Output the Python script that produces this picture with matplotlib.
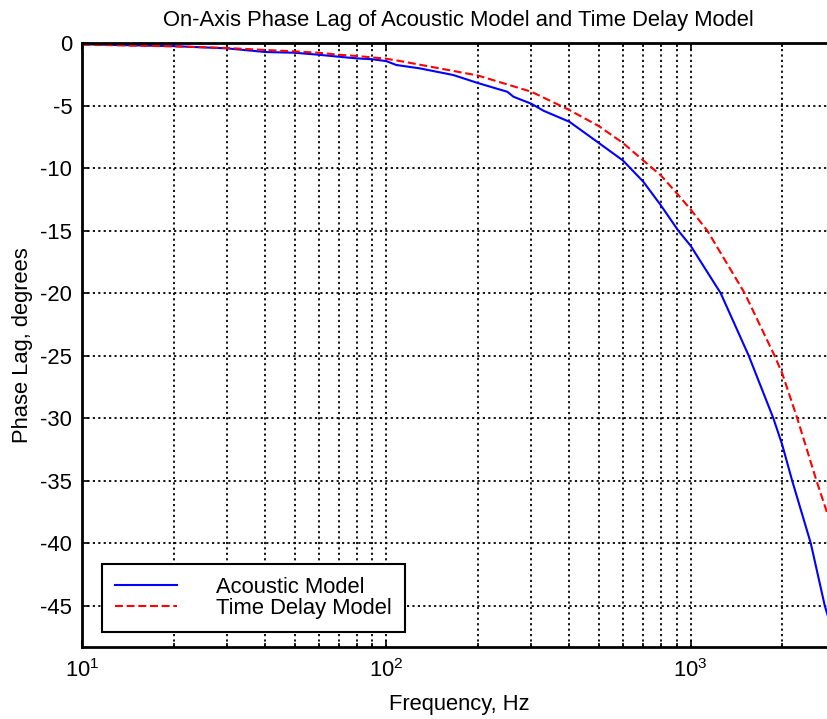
import matplotlib
matplotlib.use("Agg")
import matplotlib.pyplot as plt
from matplotlib.ticker import FixedLocator, LogLocator, NullFormatter

# --- data ---
freq_acoustic = [10, 20, 30, 40, 50, 60, 70, 80, 90, 100, 108, 129, 166, 200,
                 250, 262, 300, 329, 400, 500, 600, 700, 800, 911, 1000, 1256,
                 1553, 1871, 2000, 2158, 2484, 2762, 2850]
phase_acoustic = [-0.1, -0.25, -0.43, -0.72, -0.78, -0.94, -1.1, -1.23, -1.3,
                  -1.45, -1.76, -2.03, -2.56, -3.2, -3.9, -4.3, -4.86, -5.42,
                  -6.3, -8.0, -9.4, -11.1, -13.0, -15.0, -16.2, -20.0, -25.0,
                  -30.0, -32.1, -35.0, -40.0, -45.0, -46.1]

freq_delay = [10, 20, 30, 40, 50, 60, 70, 80, 90, 100, 111, 200, 300, 400,
              500, 600, 700, 800, 900, 1000, 1135, 1506, 1888, 2000, 2242,
              2594, 2850]
phase_delay = [-0.13, -0.27, -0.4, -0.56, -0.67, -0.78, -0.94, -1.04, -1.15,
               -1.26, -1.44, -2.6, -3.9, -5.36, -6.65, -8.0, -9.4, -10.6,
               -12.0, -13.3, -15.0, -20.0, -25.0, -26.4, -30.0, -35.0, -38.0]

y_ticks = [0, -5, -10, -15, -20, -25, -30, -35, -40, -45]
y_tick_labels = ["0", "-5", "-10", "-15", "-20", "-25", "-30", "-35", "-40", "-45"]
series_labels = ["Acoustic Model", "Time Delay Model"]

plt.rcParams["font.family"] = ["Liberation Sans", "DejaVu Sans"]
plt.rcParams["mathtext.fontset"] = "custom"
plt.rcParams["mathtext.rm"] = "Liberation Sans"
plt.rcParams["mathtext.it"] = "Liberation Sans:italic"
plt.rcParams["axes.unicode_minus"] = False

FS = 15.8

fig = plt.figure(figsize=(8.28, 7.19), dpi=100)
# axes runs a few pixels past the right edge (cut off like the original)
ax = fig.add_axes([82 / 828, 72 / 719, 753.7 / 828, 604 / 719])

ax.plot(freq_acoustic, phase_acoustic, color="#0000ff", lw=1.5,
        label=series_labels[0])
ax.plot(freq_delay, phase_delay, color="#ff0000", lw=1.5,
        dashes=(3.8, 1.8), label=series_labels[1])

ax.set_xscale("log")
ax.set_xlim(10, 3000)
ax.set_ylim(-48.3, 0)
ax.yaxis.set_major_locator(FixedLocator(y_ticks))
ax.set_yticklabels(y_tick_labels)
ax.xaxis.set_major_locator(LogLocator(base=10))
ax.xaxis.set_minor_locator(LogLocator(base=10, subs=range(2, 10)))
ax.xaxis.set_minor_formatter(NullFormatter())

grid_style = dict(color="black", linestyle=(0, (1.2, 1.8)), linewidth=1.3)
ax.grid(True, which="major", axis="both", **grid_style)
ax.grid(True, which="minor", axis="x", **grid_style)

ax.tick_params(which="both", direction="in", top=True, right=True,
               labelsize=FS, width=1.2, color="black")
ax.tick_params(axis="x", which="major", length=5, pad=9)
ax.tick_params(axis="x", which="minor", length=3)
ax.tick_params(axis="y", which="major", length=5, pad=7)
for sp in ax.spines.values():
    sp.set_linewidth(2)
    sp.set_color("black")

ax.set_title("On-Axis Phase Lag of Acoustic Model and Time Delay Model",
             fontsize=FS, pad=12)
ax.set_xlabel("Frequency, Hz", fontsize=FS, labelpad=8)
ax.set_ylabel("Phase Lag, degrees", fontsize=FS, labelpad=5)

# legend box in the lower left corner
leg = ax.legend(loc="lower left", bbox_to_anchor=(20 / 753.7, 15 / 604),
                borderaxespad=0, fontsize=FS, frameon=True, fancybox=False,
                handlelength=2.8, handletextpad=1.8, labelspacing=0.0,
                borderpad=0.6)
leg.get_frame().set_edgecolor("black")
leg.get_frame().set_linewidth(1.5)
leg.get_frame().set_alpha(1)

fig.savefig("out.png", dpi=100)
